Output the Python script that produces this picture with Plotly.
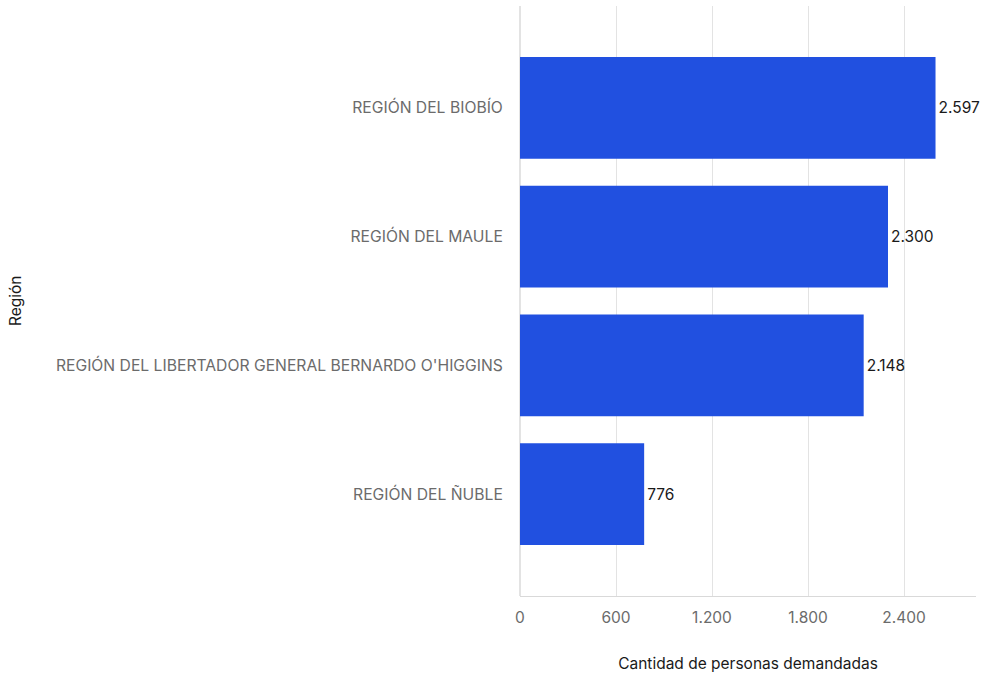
import plotly.graph_objects as go

regions = [
    "REGIÓN DEL BIOBÍO",
    "REGIÓN DEL MAULE",
    "REGIÓN DEL LIBERTADOR GENERAL BERNARDO O'HIGGINS",
    "REGIÓN DEL ÑUBLE",
]
values = [2597, 2300, 2148, 776]
x_ticks = [0, 600, 1200, 1800, 2400]

FONT = "Inter"

fig = go.Figure(
    go.Bar(
        y=regions,
        x=values,
        orientation="h",
        marker=dict(color="#2150E0", line=dict(width=0)),
        width=0.79,
        texttemplate="%{x:,}",
        textposition="outside",
        textfont=dict(family=FONT, size=15.5, color="#1a1a1a"),
        cliponaxis=False,
        hoverinfo="skip",
    )
)

fig.update_layout(
    width=984,
    height=673,
    margin=dict(l=520, r=8, t=6, b=77),
    paper_bgcolor="white",
    plot_bgcolor="white",
    separators=",.",
    showlegend=False,
    font=dict(family=FONT, size=15.7, color="#6b6b6b"),
    xaxis=dict(
        range=[0, 2850],
        tickvals=x_ticks,
        tickformat=",",
        showgrid=True,
        gridcolor="#e3e3e3",
        gridwidth=1,
        zeroline=True,
        zerolinecolor="#e3e3e3",
        showline=True,
        linecolor="#d9d9d9",
        ticks="outside",
        ticklen=7,
        tickcolor="rgba(0,0,0,0)",
        tickfont=dict(family=FONT, size=15.5, color="#6b6b6b"),
        title=dict(
            text="Cantidad de personas demandadas",
            font=dict(family=FONT, size=15.5, color="#1a1a1a"),
            standoff=33,
        ),
        automargin=False,
        fixedrange=True,
    ),
    yaxis=dict(
        categoryorder="array",
        categoryarray=regions[::-1],
        range=[-0.79, 3.79],
        showgrid=False,
        zeroline=False,
        showline=False,
        ticks="outside",
        ticklen=13,
        tickcolor="rgba(0,0,0,0)",
        tickfont=dict(family=FONT, size=15.7, color="#6b6b6b"),
        automargin=False,
        fixedrange=True,
    ),
    annotations=[
        dict(
            text="Región",
            xref="paper",
            yref="paper",
            x=0,
            y=0.5,
            xshift=-505,
            xanchor="center",
            yanchor="middle",
            textangle=-90,
            showarrow=False,
            font=dict(family=FONT, size=15.5, color="#1a1a1a"),
        )
    ],
)

fig.write_html(
    "out.html",
    config={"displayModeBar": False},
    post_script="document.body.style.margin='0';document.body.style.padding='0';",
)
